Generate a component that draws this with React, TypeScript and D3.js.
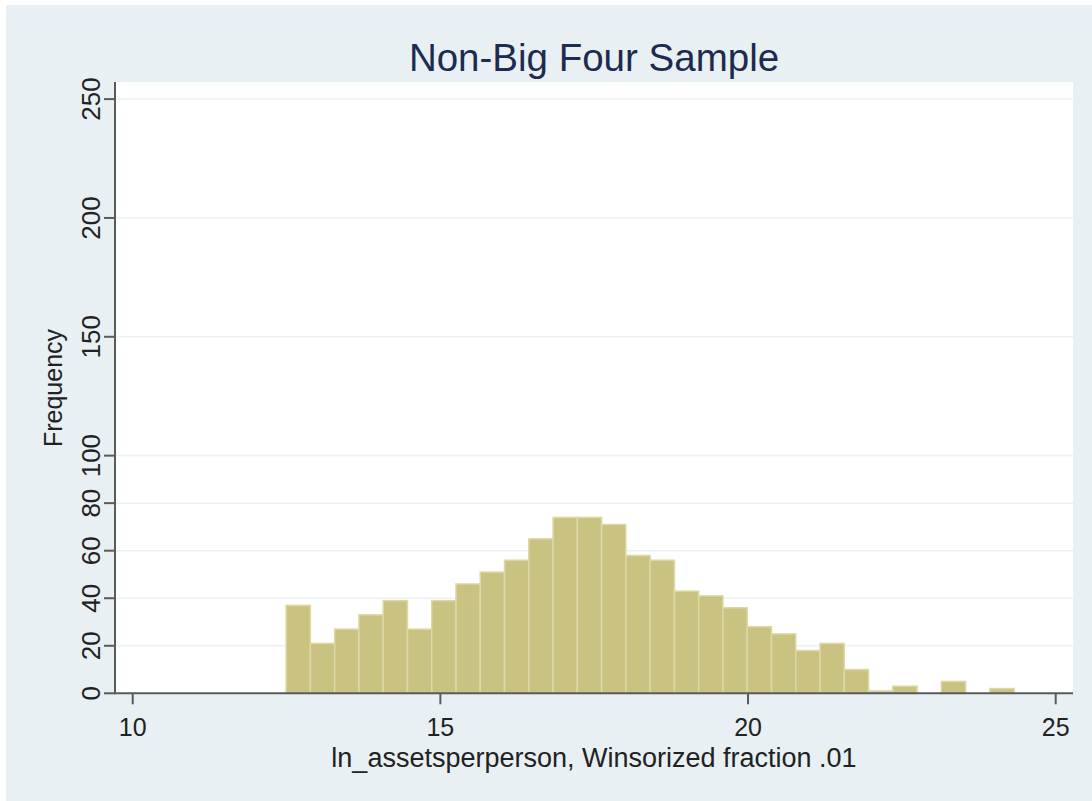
import React from "react";
import * as d3 from "d3";

// histogram: ln_assetsperperson, non-big four firms
const binStart = 12.493;
const binWidth = 0.3944;
const counts = [37, 21, 27, 33, 39, 27, 39, 46, 51, 56, 65, 74, 74, 71, 58, 56, 43, 41, 36, 28, 25, 18, 21, 10, 1, 3, 0, 5, 0, 2];
const xTicks = [10, 15, 20, 25];
const yTicks = [0, 20, 40, 60, 80, 100, 150, 200, 250];

const W = 1092;
const H = 801;
const plot = { left: 115, right: 1073, top: 82, bottom: 693.3 };

const font = "Arial, 'Liberation Sans', sans-serif";

const App = () => {
  const x = d3.scaleLinear().domain([10, 25]).range([132.7, 1055.7]);
  const y = d3.scaleLinear().domain([0, 250]).range([plot.bottom, 99.1]);

  const bins = counts.map((c, i) => ({
    x0: binStart + i * binWidth,
    x1: binStart + (i + 1) * binWidth,
    count: c,
  }));

  return (
    <div style={{ position: "absolute", left: 0, top: 0 }}>
      <svg width={W} height={H} style={{ display: "block", fontFamily: font }}>
        <rect x={0} y={0} width={W} height={H} fill="#ffffff" />
        <rect x={6} y={5} width={W - 6} height={H - 5} fill="#E8F0F3" />
        <rect
          x={plot.left}
          y={plot.top}
          width={plot.right - plot.left}
          height={plot.bottom - plot.top}
          fill="#ffffff"
        />

        {/* grid */}
        {yTicks
          .filter((t) => t > 0)
          .map((t) => (
            <line
              key={"g" + t}
              x1={plot.left}
              x2={plot.right}
              y1={y(t)}
              y2={y(t)}
              stroke="#EAF2F3"
              strokeWidth={1.5}
            />
          ))}

        {/* bars */}
        {bins
          .filter((b) => b.count > 0)
          .map((b, i) => (
            <rect
              key={"b" + i}
              x={x(b.x0)}
              y={y(b.count)}
              width={x(b.x1) - x(b.x0)}
              height={plot.bottom - y(b.count)}
              fill="#C9C281"
              stroke="#DDD8A6"
              strokeWidth={1.5}
            />
          ))}

        {/* axes */}
        <line x1={plot.left} x2={plot.left} y1={plot.top} y2={plot.bottom} stroke="#5A5A5A" strokeWidth={2} />
        <line x1={plot.left - 1} x2={plot.right} y1={plot.bottom} y2={plot.bottom} stroke="#5A5A5A" strokeWidth={2} />

        {yTicks.map((t) => (
          <g key={"y" + t}>
            <line x1={plot.left - 11} x2={plot.left} y1={y(t)} y2={y(t)} stroke="#5A5A5A" strokeWidth={2} />
            <text
              transform={`translate(${100},${y(t)}) rotate(-90)`}
              textAnchor="middle"
              fontSize={26}
              fill="#222"
            >
              {t}
            </text>
          </g>
        ))}

        {xTicks.map((t) => (
          <g key={"x" + t}>
            <line x1={x(t)} x2={x(t)} y1={plot.bottom} y2={plot.bottom + 11} stroke="#5A5A5A" strokeWidth={2} />
            <text x={x(t)} y={736} textAnchor="middle" fontSize={25} fill="#222">
              {t}
            </text>
          </g>
        ))}

        <text
          transform={`translate(${62},${388}) rotate(-90)`}
          textAnchor="middle"
          fontSize={25}
          fill="#222"
        >
          Frequency
        </text>
        <text x={594} y={767} textAnchor="middle" fontSize={27} fill="#222">
          ln_assetsperperson, Winsorized fraction .01
        </text>
        <text x={594} y={71} textAnchor="middle" fontSize={38.5} fill="#1C2B4F">
          Non-Big Four Sample
        </text>
      </svg>
    </div>
  );
};

export default App;
